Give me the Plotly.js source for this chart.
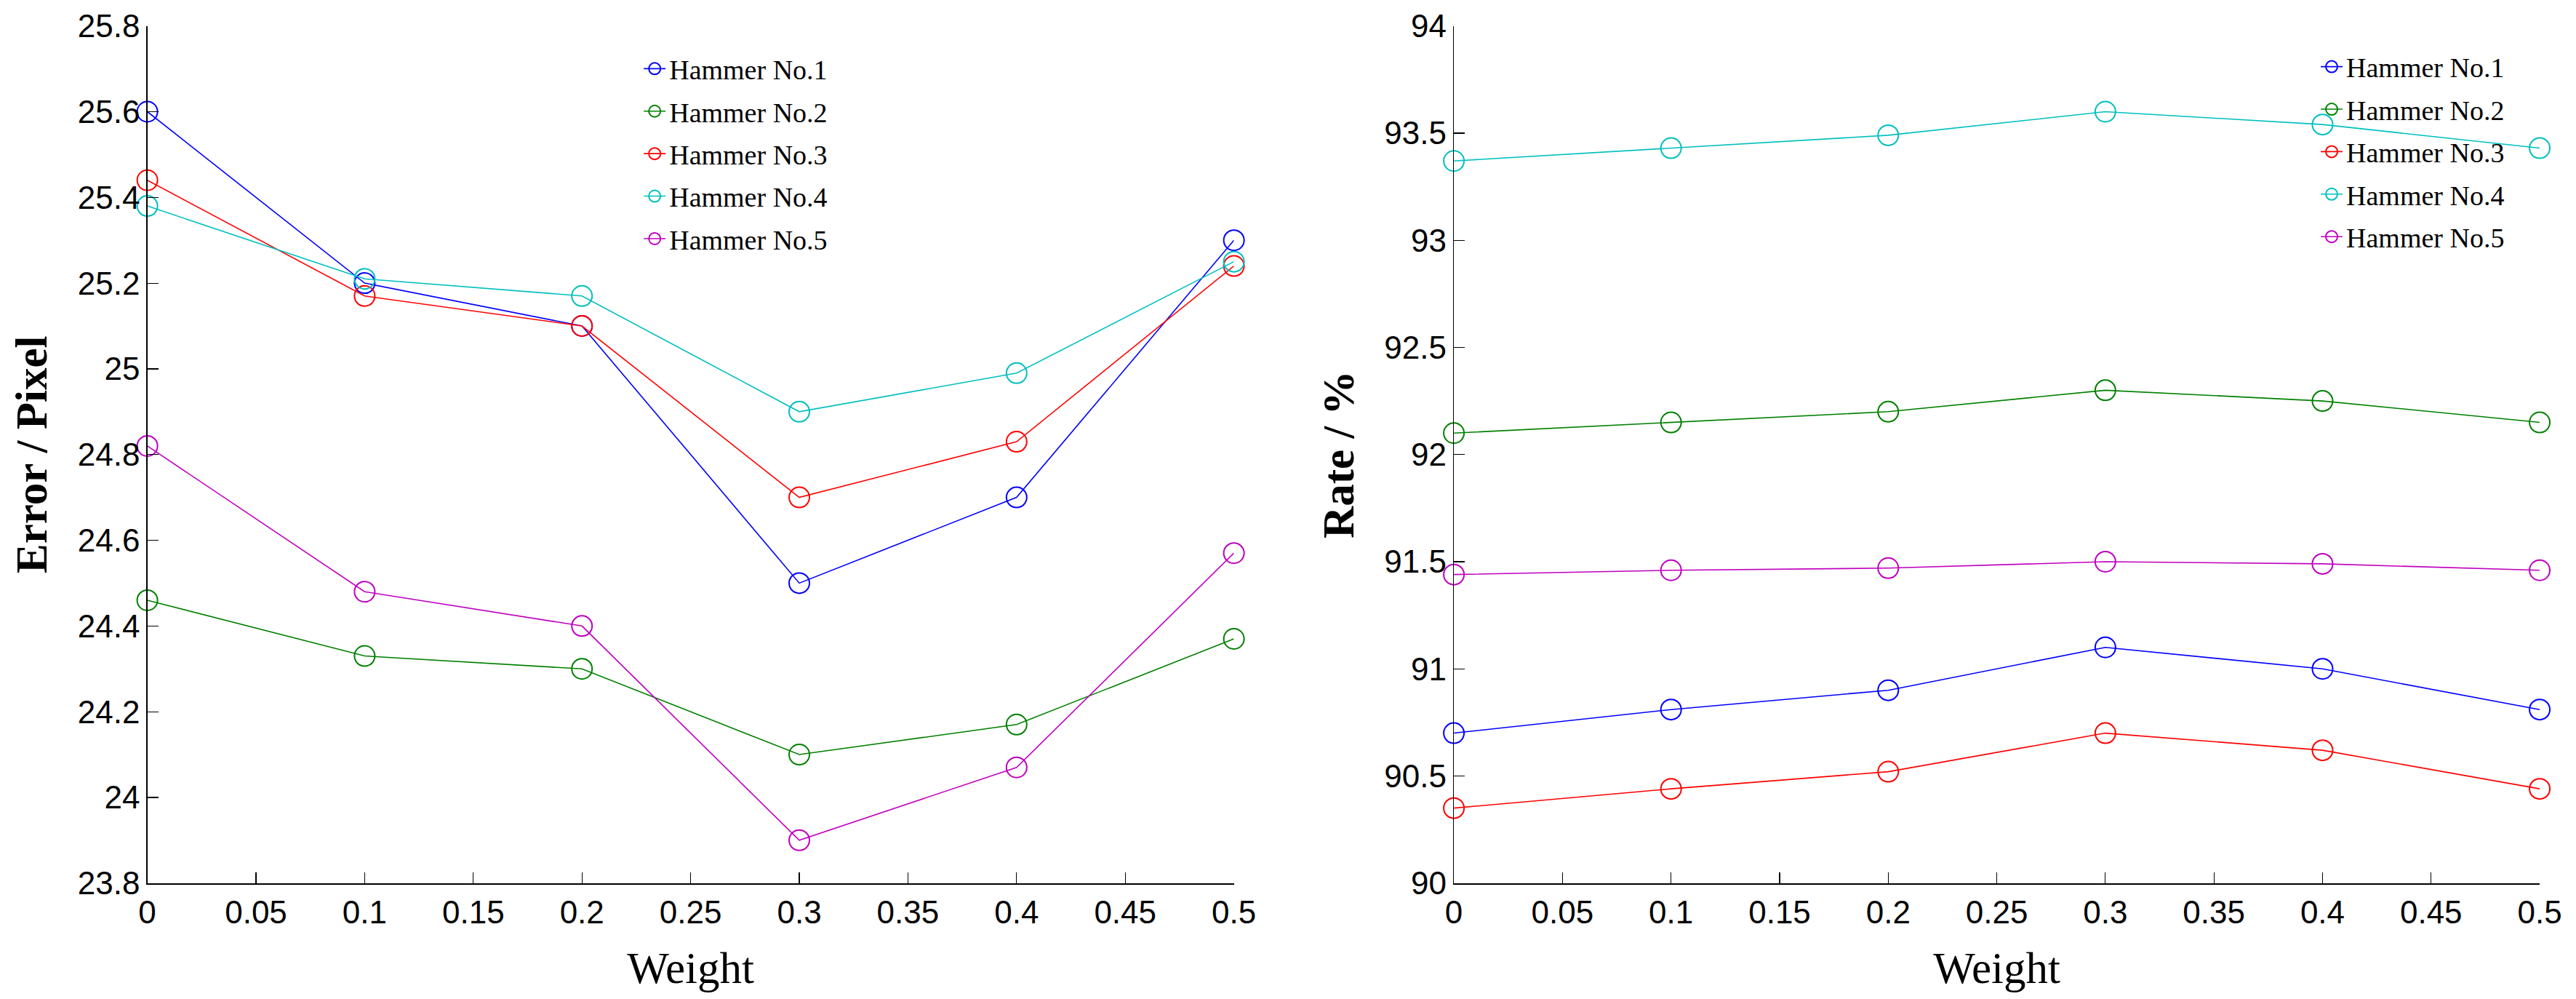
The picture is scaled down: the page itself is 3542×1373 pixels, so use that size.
<!DOCTYPE html>
<html>
<head>
<meta charset="utf-8">
<script src="https://cdn.plot.ly/plotly-3.0.1.min.js"></script>
<style>
  html, body { margin: 0; padding: 0; background: #fff; }
  #chart { width: 3542px; height: 1373px; }
</style>
</head>
<body>
<div id="chart"></div>
<script>
var weights = [0, 0.1, 0.2, 0.3, 0.4, 0.5];
var hammerNames = ['Hammer No.1', 'Hammer No.2', 'Hammer No.3', 'Hammer No.4', 'Hammer No.5'];
var hammerColors = ['#0000ff', '#008000', '#ff0000', '#00bfbf', '#bf00bf'];

// left panel: error in pixels
var errorNo1 = [25.60, 25.20, 25.10, 24.50, 24.70, 25.30];
var errorNo2 = [24.46, 24.33, 24.30, 24.10, 24.17, 24.37];
var errorNo3 = [25.44, 25.17, 25.10, 24.70, 24.83, 25.24];
var errorNo4 = [25.38, 25.21, 25.17, 24.90, 24.99, 25.25];
var errorNo5 = [24.82, 24.48, 24.40, 23.90, 24.07, 24.57];

// right panel: rate in percent
var rateNo1 = [90.70, 90.81, 90.90, 91.10, 91.00, 90.81];
var rateNo2 = [92.10, 92.15, 92.20, 92.30, 92.25, 92.15];
var rateNo3 = [90.35, 90.44, 90.52, 90.70, 90.62, 90.44];
var rateNo4 = [93.37, 93.43, 93.49, 93.60, 93.54, 93.43];
var rateNo5 = [91.44, 91.46, 91.47, 91.50, 91.49, 91.46];

var errorSeries = [errorNo1, errorNo2, errorNo3, errorNo4, errorNo5];
var rateSeries = [rateNo1, rateNo2, rateNo3, rateNo4, rateNo5];

function makeTrace(values, i, xa, ya, legendName) {
  return {
    x: weights,
    y: values,
    name: hammerNames[i],
    type: 'scatter',
    mode: 'lines+markers',
    xaxis: xa,
    yaxis: ya,
    legend: legendName,
    legendgroup: legendName + '_' + i,
    cliponaxis: false,
    line: { color: hammerColors[i], width: 1.6 },
    marker: {
      symbol: 'circle-open',
      size: 28,
      color: hammerColors[i],
      line: { color: hammerColors[i], width: 2 }
    }
  };
}

var data = [];
errorSeries.forEach(function (s, i) { data.push(makeTrace(s, i, 'x', 'y', 'legend')); });
rateSeries.forEach(function (s, i) { data.push(makeTrace(s, i, 'x2', 'y2', 'legend2')); });

var tickFont = { family: 'Liberation Sans, Arial, sans-serif', size: 44, color: '#000' };
var titleFontX = { family: 'Liberation Serif, Times New Roman, serif', size: 61, color: '#000' };
var titleFontY = { family: 'Liberation Serif, Times New Roman, serif', size: 61, color: '#000', weight: 'bold' };
var legendFont = { family: 'Liberation Serif, Times New Roman, serif', size: 38, color: '#000' };

function xAxis(domain, anchor) {
  return {
    domain: domain,
    anchor: anchor,
    range: [0, 0.5],
    dtick: 0.05,
    tick0: 0,
    ticks: 'inside',
    ticklen: 15,
    tickwidth: 1.2,
    tickcolor: '#000',
    showline: true,
    linecolor: '#000',
    linewidth: 2.4,
    showgrid: false,
    zeroline: false,
    tickfont: tickFont,
    title: { text: 'Weight', font: titleFontX, standoff: 32 }
  };
}

function yAxis(domain, anchor, range, step, title) {
  return {
    domain: domain,
    anchor: anchor,
    range: range,
    dtick: step,
    tick0: range[0],
    ticks: 'inside',
    ticklen: 15,
    tickwidth: 1.2,
    tickcolor: '#000',
    showline: true,
    linecolor: '#000',
    linewidth: 1.4,
    showgrid: false,
    zeroline: false,
    tickfont: tickFont,
    title: { text: title, font: titleFontY, standoff: 22 }
  };
}

var yDomain = [0.116, 0.974];

var layout = {
  width: 3542,
  height: 1373,
  margin: { l: 0, r: 0, t: 0, b: 0 },
  paper_bgcolor: '#fff',
  plot_bgcolor: '#fff',
  xaxis: xAxis([0.0572, 0.479], 'y'),
  yaxis: yAxis(yDomain, 'x', [23.8, 25.8], 0.2, 'Error / Pixel'),
  xaxis2: xAxis([0.5644, 0.9859], 'y2'),
  yaxis2: yAxis(yDomain, 'x2', [90, 94], 0.5, 'Rate / %'),
  legend: {
    x: 0.2485, y: 0.954, xanchor: 'left', yanchor: 'top',
    bgcolor: 'rgba(0,0,0,0)', borderwidth: 0,
    font: legendFont, itemwidth: 30, tracegroupgap: 6
  },
  legend2: {
    x: 0.8995, y: 0.956, xanchor: 'left', yanchor: 'top',
    bgcolor: 'rgba(0,0,0,0)', borderwidth: 0,
    font: legendFont, itemwidth: 30, tracegroupgap: 6
  },
  showlegend: true
};

Plotly.newPlot('chart', data, layout, { displayModeBar: false, staticPlot: true });
</script>
</body>
</html>
